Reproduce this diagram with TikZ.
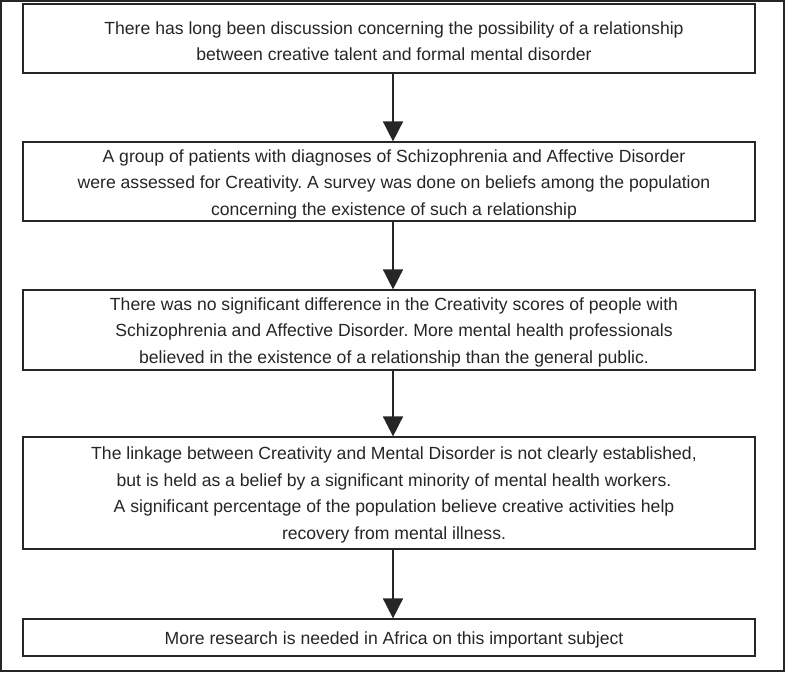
\documentclass[tikz,border=0pt]{standalone}
\usepackage{fontspec}
\setmainfont{Liberation Sans}
\usetikzlibrary{arrows.meta}
\frenchspacing
\begin{document}
\begin{tikzpicture}[x=1pt,y=-1pt,
  box/.style={draw=black!85, line width=1.2pt, minimum width=732pt, inner sep=0pt, fill=white},
  txt/.style={align=center, font=\fontsize{17.6}{26.5}\selectfont, text=black!85, inner sep=0pt},
  arr/.style={draw=black!85, line width=1.6pt, -{Triangle[width=20pt,length=20pt]}}]
\useasboundingbox (0,0) rectangle (786,673);
\node[draw=black!85, line width=1.2pt, minimum width=783pt, minimum height=670pt, inner sep=0pt] (frame) at (392.5,336) {};
\node[box, minimum height=69pt] (b1) at (389,38.5) {};
\node[box, minimum height=79pt] (b2) at (389,181.5) {};
\node[box, minimum height=80pt] (b3) at (389,330) {};
\node[box, minimum height=112pt] (b4) at (389,493) {};
\node[box, minimum height=37pt] (b5) at (389,637.5) {};
\node[txt] (t1) at ([xshift=5pt,yshift=-2.5pt]b1.center) {There has long been discussion concerning the possibility of a relationship\\between creative talent and formal mental disorder};
\node[txt] (t2) at ([xshift=5pt,yshift=-2.5pt]b2.center) {A group of patients with diagnoses of Schizophrenia and Affective Disorder\\were assessed for Creativity. A survey was done on beliefs among the population\\concerning the existence of such a relationship};
\node[txt] (t3) at ([xshift=5pt,yshift=-2pt]b3.center) {There was no significant difference in the Creativity scores of people with\\Schizophrenia and Affective Disorder. More mental health professionals\\believed in the existence of a relationship than the general public.};
\node[txt] (t4) at ([xshift=5pt,yshift=-2pt]b4.center) {The linkage between Creativity and Mental Disorder is not clearly established,\\but is held as a belief by a significant minority of mental health workers.\\A significant percentage of the population believe creative activities help\\recovery from mental illness.};
\node[txt] (t5) at ([xshift=5pt,yshift=-2pt]b5.center) {More research is needed in Africa on this important subject};
\coordinate (col) at (393,0);
\draw[arr] (b1.south -| col) -- (b2.north -| col);
\draw[arr] (b2.south -| col) -- (b3.north -| col);
\draw[arr] (b3.south -| col) -- (b4.north -| col);
\draw[arr] (b4.south -| col) -- (b5.north -| col);
\end{tikzpicture}
\end{document}
